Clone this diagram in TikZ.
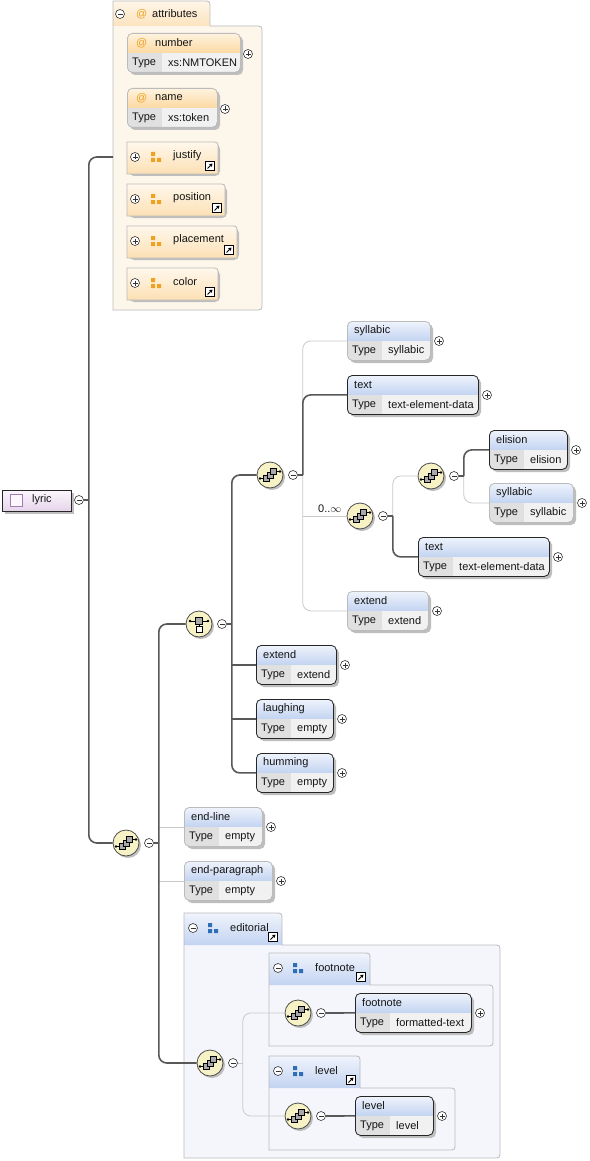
\documentclass[tikz,border=0pt]{standalone}
\usepackage{fontspec}
\setmainfont{Liberation Sans}
\usetikzlibrary{arrows.meta}

\definecolor{hdtop}{HTML}{F0F4FC}
\definecolor{hdbot}{HTML}{C2D3F1}
\definecolor{typedark}{HTML}{E0E0E0}
\definecolor{typelight}{HTML}{F1F1F1}
\definecolor{attop}{HTML}{FEF3E0}
\definecolor{atbot}{HTML}{FCD9A2}
\definecolor{agtop}{HTML}{FFF8EC}
\definecolor{agbot}{HTML}{FCE0B4}
\definecolor{atbody}{HTML}{FDF6EA}
\definecolor{attabtop}{HTML}{FFF6E8}
\definecolor{attabbot}{HTML}{FCE3BE}
\definecolor{grpbg}{HTML}{F5F6FB}
\definecolor{compfill}{HTML}{F7F2C6}
\definecolor{sqgray}{HTML}{A9A9A9}
\definecolor{linedark}{HTML}{585858}
\definecolor{linelight}{HTML}{C9C9C9}
\definecolor{reqborder}{HTML}{262626}
\definecolor{optborder}{HTML}{BBBBBB}
\definecolor{atorange}{HTML}{EFA21F}
\definecolor{grpblue}{HTML}{2F6DB6}
\definecolor{lyrtop}{HTML}{FBF7FC}
\definecolor{lyrbot}{HTML}{E5D3EA}
\definecolor{lyrpurple}{HTML}{A57BB5}
\definecolor{shadowc}{HTML}{BEBEBE}

\tikzset{
  lbl/.style={inner sep=0pt, anchor=west, font=\fontsize{11}{13}\selectfont, text=black!92},
  expnd/.style={circle, draw=black!80, fill=white, minimum size=9pt, inner sep=0pt, line width=0.6pt},
  plusc/.style={expnd, path picture={\draw[line width=0.6pt] (path picture bounding box.center) +(-2.5,0) -- +(2.5,0) (path picture bounding box.center) +(0,-2.5) -- +(0,2.5);}},
  minusc/.style={expnd, path picture={\draw[line width=0.6pt] (path picture bounding box.center) +(-2.5,0) -- +(2.5,0);}},
  req/.style={draw=reqborder, line width=0.8pt, rounded corners=5, inner sep=0pt},
  opt/.style={draw=optborder, line width=0.8pt, rounded corners=5, inner sep=0pt},
  comp/.style={circle, draw=black!70, fill=compfill, minimum size=26pt, inner sep=0pt, line width=0.8pt},
  reqline/.style={draw=linedark, line width=1.6pt, rounded corners=8},
  optline/.style={draw=linelight, line width=0.8pt, rounded corners=8}
}

\newcommand{\grpicon}[3]{%
  \fill[#3] (#1-5,#2-5) rectangle ++(4,4) (#1-5,#2+1) rectangle ++(4,4) (#1+1,#2+1) rectangle ++(4,4);}
\newcommand{\linkicon}[2]{%
  \draw[fill=white, line width=0.8pt] (#1-4.5,#2-4.5) rectangle ++(9,9);
  \draw[line width=0.9pt, -{Triangle[length=3pt,width=3.5pt]}] (#1-2.5,#2+2.5) -- (#1+2.5,#2-2.5);}
\newcommand{\xsdelem}[7]{%
  \fill[shadowc, rounded corners=5] (#3+3,#4+3) rectangle ++(#5,39);
  \begin{scope}
    \clip[rounded corners=5] (#3,#4) rectangle ++(#5,39);
    \shade[top color=hdtop, bottom color=hdbot] (#3,#4) rectangle ++(#5,20);
    \fill[typelight] (#3,#4+20) rectangle ++(#5,19);
    \fill[typedark] (#3,#4+20) rectangle ++(35,19);
  \end{scope}
  \node[#2, minimum width=#5pt, minimum height=39pt, anchor=north west] (#1) at (#3,#4) {};
  \node[lbl] at (#3+7,#4+10) {#6};
  \node[lbl] at (#3+5,#4+30) {Type};
  \node[lbl] at (#3+41,#4+30) {#7};
  \node[plusc] (#1x) at (#3+#5+9,#4+20) {};}
\newcommand{\xsdattr}[6]{%
  \fill[shadowc, rounded corners=5] (#2+3,#3+3) rectangle ++(#4,39);
  \begin{scope}
    \clip[rounded corners=5] (#2,#3) rectangle ++(#4,39);
    \shade[top color=attop, bottom color=atbot] (#2,#3) rectangle ++(#4,20);
    \fill[typelight] (#2,#3+20) rectangle ++(#4,19);
    \fill[typedark] (#2,#3+20) rectangle ++(35,19);
  \end{scope}
  \node[opt, minimum width=#4pt, minimum height=39pt, anchor=north west] (#1) at (#2,#3) {};
  \node[lbl, text=atorange] at (#2+9,#3+10) {@};
  \node[lbl] at (#2+28,#3+10) {#5};
  \node[lbl] at (#2+5,#3+30) {Type};
  \node[lbl] at (#2+41,#3+30) {#6};
  \node[plusc] (#1x) at (#2+#4+8,#3+21) {};}
\newcommand{\xsdagrp}[5]{%
  \fill[shadowc, rounded corners=5] (#2+2,#3+2) rectangle ++(#4,32);
  \shadedraw[top color=agtop, bottom color=agbot, draw=optborder, line width=0.8pt] (#2,#3+32) -- (#2,#3) -- (#2+#4-7,#3) .. controls (#2+#4,#3) .. (#2+#4,#3+7) -- (#2+#4,#3+32) -- cycle;
  \node[minimum width=#4pt, minimum height=32pt, anchor=north west, inner sep=0pt] (#1) at (#2,#3) {};
  \node[plusc] (#1x) at (#2+8,#3+15) {};
  \grpicon{#2+29}{#3+15}{atorange}
  \node[lbl] at (#2+46,#3+14) {#5};
  \linkicon{#2+#4-8}{#3+24}}
\newcommand{\xsdgroup}[7]{%
  \fill[grpbg] (#2,#3+32) -- (#2+#5-7,#3+32) .. controls (#2+#5,#3+32) .. (#2+#5,#3+39) -- (#2+#5,#3+32+#6-7) .. controls (#2+#5,#3+32+#6) .. (#2+#5-7,#3+32+#6) -- (#2,#3+32+#6) -- cycle;
  \shade[top color=hdtop, bottom color=hdbot] (#2,#3+32) -- (#2,#3) -- (#2+#4-7,#3) .. controls (#2+#4,#3) .. (#2+#4,#3+7) -- (#2+#4,#3+32) -- cycle;
  \draw[optborder, line width=0.8pt] (#2,#3+32+#6) -- (#2,#3) -- (#2+#4-7,#3) .. controls (#2+#4,#3) .. (#2+#4,#3+7) -- (#2+#4,#3+32) -- (#2+#5-7,#3+32) .. controls (#2+#5,#3+32) .. (#2+#5,#3+39) -- (#2+#5,#3+32+#6-7) .. controls (#2+#5,#3+32+#6) .. (#2+#5-7,#3+32+#6) -- cycle;
  \node[minimum width=#5pt, minimum height=#6pt, anchor=north west, inner sep=0pt] (#1) at (#2,#3+32) {};
  \node[minusc] (#1m) at (#2+9,#3+15) {};
  \grpicon{#2+29}{#3+15}{grpblue}
  \node[lbl] at (#2+46,#3+15) {#7};
  \linkicon{#2+#4-9}{#3+24}}
\newcommand{\xsdseq}[3]{%
  \fill[shadowc] (#2+2,#3+2) circle (13);
  \node[comp] (#1) at (#2,#3) {};
  \begin{scope}[shift={(#2,#3)}, line width=0.5pt]
    \draw (-10,3.5) -- (-3.5,3.5) (3.5,-3.5) -- (10,-3.5);
    \fill (-10,3.5) circle (1.3) (10,-3.5) circle (1.3);
    \foreach \sx/\sy in {-3.5/3.5,0/0,3.5/-3.5}
      \draw[fill=sqgray] (\sx-3,\sy-3) rectangle ++(6,6);
  \end{scope}
  \node[minusc] (#1m) at (#2+23,#3) {};}
\newcommand{\xsdchoice}[3]{%
  \fill[shadowc] (#2+2,#3+2) circle (13);
  \node[comp] (#1) at (#2,#3) {};
  \begin{scope}[shift={(#2,#3)}, line width=0.5pt]
    \draw (-9,-3) -- (9,-3) (0,-3) -- (0,2);
    \fill (-9,-3) circle (1.3) (9,-3) circle (1.3);
    \draw[fill=sqgray] (-3.5,-6.5) rectangle ++(7,7);
    \draw[fill=white] (-3,2) rectangle ++(6,6);
  \end{scope}
  \node[minusc] (#1m) at (#2+23,#3) {};}

\begin{document}
\begin{tikzpicture}[x=1pt, y=-1pt]
\useasboundingbox[fill=white] (0,0) rectangle (589,1161);

% attributes
\fill[atbody] (113,310) -- (113,26) -- (255,26) .. controls (262,26) .. (262,33) -- (262,303) .. controls (262,310) .. (255,310) -- cycle;
\shade[top color=attabtop, bottom color=attabbot] (113,26) -- (113,1) -- (203,1) .. controls (210,1) .. (210,8) -- (210,26) -- cycle;
\draw[optborder, line width=0.8pt] (113,310) -- (113,1) -- (203,1) .. controls (210,1) .. (210,8) -- (210,26) -- (255,26) .. controls (262,26) .. (262,33) -- (262,303) .. controls (262,310) .. (255,310) -- cycle;
\node[minimum width=149pt, minimum height=284pt, anchor=north west, inner sep=0pt] (attrs) at (113,26) {};
\node[minusc] (attrsm) at (120,14) {};
\node[lbl, text=atorange] at (136,14) {@};
\node[lbl] at (152,14) {attributes};
\coordinate (attin) at (113,157);

\xsdattr{attnum}{127}{33}{113}{number}{xs:NMTOKEN}
\xsdattr{attname}{127}{88}{90}{name}{xs:token}
\xsdagrp{agjust}{127}{142}{91}{justify}
\xsdagrp{agpos}{127}{184}{98}{position}
\xsdagrp{agplace}{127}{226}{110}{placement}
\xsdagrp{agcolor}{127}{268}{91}{color}

% editorial
\xsdgroup{edit}{184}{913}{98}{316}{213}{editorial}
\xsdgroup{fngrp}{269}{953}{101}{224}{61}{footnote}
\xsdgroup{lvgrp}{269}{1056}{91}{186}{62}{level}

% lyric
\fill[shadowc] (5,493) rectangle ++(69,21);
\node[draw=black!85, line width=0.8pt, top color=lyrtop, bottom color=lyrbot, minimum width=69pt, minimum height=21pt, anchor=north west, inner sep=0pt] (lyric) at (2,490) {};
\draw[lyrpurple, fill=lyrtop, line width=0.8pt] (10,494) rectangle ++(12,12);
\node[lbl] at (32,500) {lyric};
\node[minusc] (lyricm) at (79,500) {};

\xsdseq{mseq}{126}{843}
\xsdchoice{cho}{199}{624}
\xsdseq{seqa}{270}{475}
\xsdseq{seqb}{360}{516}
\xsdseq{seqc}{431}{476}
\xsdseq{edseq}{210}{1063}
\xsdseq{fnseq}{298}{1013}
\xsdseq{lvseq}{298}{1116}

\xsdelem{syla}{opt}{347}{321}{83}{syllabic}{syllabic}
\xsdelem{texta}{req}{347}{375}{131}{text}{text-element-data}
\xsdelem{elis}{req}{489}{430}{78}{elision}{elision}
\xsdelem{sylb}{opt}{489}{483}{84}{syllabic}{syllabic}
\xsdelem{textb}{req}{418}{537}{131}{text}{text-element-data}
\xsdelem{exta}{opt}{347}{591}{81}{extend}{extend}
\xsdelem{extb}{req}{256}{645}{80}{extend}{extend}
\xsdelem{laugh}{req}{256}{699}{77}{laughing}{empty}
\xsdelem{hum}{req}{256}{753}{77}{humming}{empty}
\xsdelem{endl}{opt}{184}{807}{78}{end-line}{empty}
\xsdelem{endp}{opt}{184}{861}{88}{end-paragraph}{empty}
\xsdelem{fnote}{req}{355}{993}{116}{footnote}{formatted-text}
\xsdelem{lvl}{req}{355}{1096}{78}{level}{level}

\node[lbl, anchor=base west] (seqblbl) at (318,512) {0..$\infty$};

% connectors
\path (lyricm.east) ++(5,0) coordinate (lyrt);
\draw[reqline] (lyricm.east) -- (lyrt);
\draw[reqline] (lyrt) |- (attin);
\draw[reqline] (lyrt) |- (mseq.west);

\path (mseqm.east) ++(5,0) coordinate (mseqt);
\foreach \c in {endl,endp} \draw[optline] (mseqt |- \c.west) -- (\c.west);
\draw[reqline] (mseqm.east) -- (mseqt);
\foreach \c in {cho,edseq} \draw[reqline] (mseqt) |- (\c.west);

\path (chom.east) ++(5,0) coordinate (chot);
\draw[reqline] (chom.east) -- (chot);
\foreach \c in {seqa,hum} \draw[reqline] (chot) |- (\c.west);
\foreach \c in {extb,laugh} \draw[reqline] (chot |- \c.west) -- (\c.west);

\path (seqam.east) ++(5,0) coordinate (seqat);
\foreach \c in {syla,exta} \draw[optline] (seqat) |- (\c.west);
\draw[optline] (seqat |- seqb.west) -- (seqb.west);
\draw[reqline] (seqam.east) -- (seqat);
\draw[reqline] (seqat) |- (texta.west);

\path (seqbm.east) ++(5,0) coordinate (seqbt);
\draw[optline] (seqbt) |- (seqc.west);
\draw[reqline] (seqbm.east) -- (seqbt);
\draw[reqline] (seqbt) |- (textb.west);

\path (seqcm.east) ++(5,0) coordinate (seqct);
\draw[optline] (seqct) |- (sylb.west);
\draw[reqline] (seqcm.east) -- (seqct);
\draw[reqline] (seqct) |- (elis.west);

\path (edseqm.east) ++(5,0) coordinate (edseqt);
\draw[optline] (edseqm.east) -- (edseqt);
\foreach \c in {fnseq,lvseq} \draw[optline] (edseqt) |- (\c.west);
\draw[reqline] (fnseqm.east) -- (fnote.west);
\draw[reqline] (lvseqm.east) -- (lvl.west);
\end{tikzpicture}
\end{document}
